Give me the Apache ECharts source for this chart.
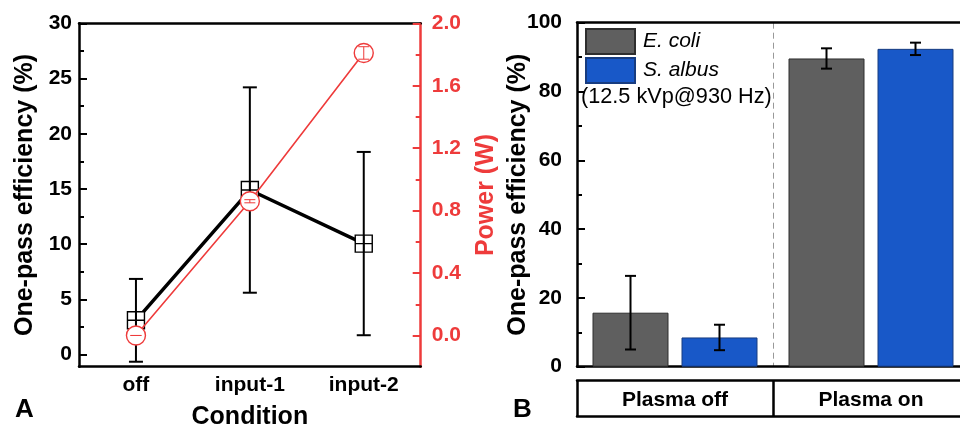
<!DOCTYPE html>
<html>
<head>
<meta charset="utf-8">
<script src="https://cdn.jsdelivr.net/npm/echarts@6/dist/echarts.min.js"></script>
<style>html,body{margin:0;padding:0;background:#fff;}#c{width:960px;height:426px;}</style>
</head>
<body>
<div id="c"></div>
<script>
// ---- Data ----
var conditions = ['off', 'input-1', 'input-2'];
var efficiency = [3.1, 14.9, 10.05];
var efficiencyErr = [3.75, 9.3, 8.3];
var power = [0.0, 0.86, 1.81];
var powerErr = [0.0, 0.01, 0.04];

var groups = ['Plasma off', 'Plasma on'];
var ecoli = [15.7, 89.6];
var ecoliErr = [10.7, 2.95];
var salbus = [8.5, 92.4];
var salbusErr = [3.7, 1.8];

var leftYTicks = [0, 5, 10, 15, 20, 25, 30];
var rightYTicks = [0.0, 0.4, 0.8, 1.2, 1.6, 2.0];
var barYTicks = [0, 20, 40, 60, 80, 100];
var note = '(12.5 kVp@930 Hz)';

// ---- Styles ----
var FONT = 'Liberation Sans, Arial, sans-serif';
var RED = '#ee3b3b';
var BAR_W = 76, BAR_GAP = 13;
var AX_W = 2.5;

function midpoints(list) {
  var out = [];
  for (var i = 0; i < list.length - 1; i++) out.push(+((list[i] + list[i + 1]) / 2).toFixed(4));
  return out;
}
function errRender(offsetPx, color, capW, lw) {
  return function (params, api) {
    var x = api.value(0), v = api.value(1), e = api.value(2);
    var hi = api.coord([x, v + e]);
    var lo = api.coord([x, v - e]);
    var cx = hi[0] + offsetPx;
    var st = {stroke: color, lineWidth: lw};
    return {type: 'group', children: [
      {type: 'line', shape: {x1: cx, y1: hi[1], x2: cx, y2: lo[1]}, style: st},
      {type: 'line', shape: {x1: cx - capW / 2, y1: hi[1], x2: cx + capW / 2, y2: hi[1]}, style: st},
      {type: 'line', shape: {x1: cx - capW / 2, y1: lo[1], x2: cx + capW / 2, y2: lo[1]}, style: st}
    ]};
  };
}
function errData(vals, errs) {
  return vals.map(function (v, i) { return [i, v, errs[i]]; });
}

var chart = echarts.init(document.getElementById('c'), null, {renderer: 'canvas'});
var lblBold = {fontFamily: FONT, fontWeight: 'bold', fontSize: 21, color: '#000'};
var nameStyle = {fontFamily: FONT, fontWeight: 'bold', fontSize: 25, color: '#000'};

var option = {
  animation: false,
  backgroundColor: '#fff',
  textStyle: {fontFamily: FONT},
  grid: [
    {left: 79, top: 23.3, width: 341.7, bottom: 59.3, outerBoundsMode: 'none', containLabel: false},
    {left: 577, top: 22.7, width: 392, bottom: 59.3, outerBoundsMode: 'none', containLabel: false}
  ],
  legend: {
    data: ['E. coli', 'S. albus'],
    orient: 'vertical', left: 585, top: 28, padding: 0,
    itemWidth: 49, itemHeight: 25, itemGap: 2,
    icon: 'rect',
    textStyle: {fontFamily: FONT, fontStyle: 'italic', fontSize: 21, color: '#000', padding: [0, 0, 0, 3]}
  },
  xAxis: [
    {type: 'category', gridIndex: 0, data: conditions, position: 'bottom',
     axisLine: {onZero: false, lineStyle: {color: '#000', width: AX_W}},
     axisTick: {alignWithLabel: true, inside: true, length: 8, lineStyle: {width: 2}},
     axisLabel: Object.assign({margin: 8}, lblBold),
     name: 'Condition', nameLocation: 'middle', nameGap: 38, nameMoveOverlap: false, nameTextStyle: nameStyle},
    {type: 'category', gridIndex: 0, data: conditions, position: 'bottom',
     axisLine: {show: false, onZero: false}, axisLabel: {show: false},
     axisTick: {inside: true, length: 5, lineStyle: {width: 2, color: '#000'}}},
    {type: 'category', gridIndex: 0, data: conditions, position: 'top',
     axisLine: {onZero: false, lineStyle: {color: '#000', width: AX_W}},
     axisTick: {alignWithLabel: true, inside: true, length: 6, lineStyle: {width: 2}},
     axisLabel: {show: false}},
    {type: 'category', gridIndex: 0, data: conditions, position: 'top',
     axisLine: {show: false, onZero: false}, axisLabel: {show: false},
     axisTick: {inside: true, length: 4, lineStyle: {width: 2, color: '#000'}}},
    // right panel
    {type: 'category', gridIndex: 1, data: groups, position: 'bottom',
     axisLine: {onZero: false, lineStyle: {color: '#000', width: AX_W}},
     axisTick: {show: false}, axisLabel: {show: false},
     splitLine: {show: true, lineStyle: {color: '#999', type: [6, 4], width: 1}}},
    {type: 'category', gridIndex: 1, data: groups, position: 'top',
     axisLine: {onZero: false, lineStyle: {color: '#000', width: AX_W}},
     axisTick: {show: false}, axisLabel: {show: false}},
    {type: 'category', gridIndex: 1, data: groups, position: 'bottom', offset: 50,
     axisLine: {onZero: false, lineStyle: {color: '#000', width: AX_W}},
     axisTick: {show: false},
     axisLabel: Object.assign({inside: true, margin: 6}, lblBold)},
    {type: 'category', gridIndex: 1, data: groups, position: 'bottom', offset: 13.3,
     axisLine: {onZero: false, lineStyle: {color: '#000', width: AX_W}},
     axisTick: {show: true, interval: 0, alignWithLabel: false, inside: false, length: 36.7,
                lineStyle: {color: '#000', width: AX_W}},
     axisLabel: {show: false}}
  ],
  yAxis: [
    {type: 'value', gridIndex: 0, position: 'left', min: -1.1, max: 30,
     axisLine: {show: true, onZero: false, lineStyle: {color: '#000', width: AX_W}},
     axisTick: {show: true, inside: true, length: 8, customValues: leftYTicks, lineStyle: {width: 2}},
     splitLine: {show: false},
     axisLabel: Object.assign({margin: 7, customValues: leftYTicks}, lblBold),
     name: 'One-pass efficiency (%)', nameLocation: 'middle', nameGap: 41, nameMoveOverlap: false, nameTextStyle: nameStyle},
    {type: 'value', gridIndex: 0, position: 'right', min: -0.2, max: 2.0,
     axisLine: {show: true, onZero: false, lineStyle: {color: RED, width: AX_W}},
     axisTick: {show: true, inside: true, length: 8, customValues: rightYTicks, lineStyle: {width: 2, color: RED}},
     splitLine: {show: false},
     axisLabel: Object.assign({}, lblBold, {margin: 11, color: RED, customValues: rightYTicks,
       formatter: function (v) { return v.toFixed(1); }}),
     name: 'Power (W)', nameLocation: 'middle', nameGap: 53, nameMoveOverlap: false,
     nameTextStyle: Object.assign({}, nameStyle, {color: RED})},
    {type: 'value', gridIndex: 1, position: 'left', min: 0, max: 100, interval: 20,
     axisLine: {show: true, onZero: false, lineStyle: {color: '#000', width: AX_W}},
     axisTick: {show: true, inside: true, length: 8, lineStyle: {width: 2}},
     minorTick: {show: true, splitNumber: 2, length: 5, lineStyle: {color: '#000', width: 2}},
     splitLine: {show: false},
     axisLabel: Object.assign({margin: 15}, lblBold),
     name: 'One-pass efficiency (%)', nameLocation: 'middle', nameGap: 46, nameMoveOverlap: false, nameTextStyle: nameStyle},
    // minor tick overlays
    {type: 'value', gridIndex: 0, position: 'left', min: -1.1, max: 30,
     axisLine: {show: false, onZero: false}, axisLabel: {show: false}, splitLine: {show: false},
     axisTick: {show: true, inside: true, length: 5, customValues: midpoints(leftYTicks), lineStyle: {width: 2, color: '#000'}}},
    {type: 'value', gridIndex: 0, position: 'right', min: -0.2, max: 2.0,
     axisLine: {show: false, onZero: false}, axisLabel: {show: false}, splitLine: {show: false},
     axisTick: {show: true, inside: true, length: 5, customValues: midpoints(rightYTicks), lineStyle: {width: 2, color: RED}}}
  ],
  graphic: [
    {type: 'text', left: 581, top: 86, style: {text: note, font: '21.7px ' + FONT, fill: '#000'}},
    {type: 'text', left: 15, top: 397, style: {text: 'A', font: 'bold 26px ' + FONT, fill: '#000'}},
    {type: 'text', left: 513, top: 397, style: {text: 'B', font: 'bold 26px ' + FONT, fill: '#000'}}
  ],
  series: [
    {type: 'custom', name: 'effErr', xAxisIndex: 0, yAxisIndex: 0, z: 3,
     renderItem: errRender(0, '#000', 14, 2), data: errData(efficiency, efficiencyErr)},
    {type: 'line', name: 'efficiency', xAxisIndex: 0, yAxisIndex: 0, data: efficiency, z: 2,
     lineStyle: {color: '#000', width: 3.5},
     symbol: 'path://M0,0H10V10H0Z M5,0V10 M0,5H10', symbolSize: 17, symbolKeepAspect: true,
     itemStyle: {color: '#fff', borderColor: '#000', borderWidth: 1.4}},
    {type: 'line', name: 'power', xAxisIndex: 0, yAxisIndex: 1, data: power, z: 4,
     lineStyle: {color: RED, width: 1.6},
     symbol: 'circle', symbolSize: 19,
     itemStyle: {color: '#fff', borderColor: RED, borderWidth: 1.4}},
    {type: 'custom', name: 'powErr', xAxisIndex: 0, yAxisIndex: 1, z: 5,
     renderItem: errRender(0, RED, 11, 1), data: errData(power, powerErr)},
    {type: 'bar', name: 'E. coli', xAxisIndex: 4, yAxisIndex: 2, data: ecoli,
     barWidth: BAR_W, barGap: (BAR_GAP / BAR_W * 100) + '%',
     itemStyle: {color: '#5f5f5f', borderColor: '#2e2e2e', borderWidth: 1}},
    {type: 'bar', name: 'S. albus', xAxisIndex: 4, yAxisIndex: 2, data: salbus,
     barWidth: BAR_W,
     itemStyle: {color: '#1858c8', borderColor: '#173c80', borderWidth: 1}},
    {type: 'custom', name: 'ecErr', xAxisIndex: 4, yAxisIndex: 2, z: 5,
     renderItem: errRender(-(BAR_W + BAR_GAP) / 2, '#000', 11, 2), data: errData(ecoli, ecoliErr)},
    {type: 'custom', name: 'saErr', xAxisIndex: 4, yAxisIndex: 2, z: 5,
     renderItem: errRender((BAR_W + BAR_GAP) / 2, '#000', 11, 2), data: errData(salbus, salbusErr)}
  ]
};
chart.setOption(option);
</script>
</body>
</html>
